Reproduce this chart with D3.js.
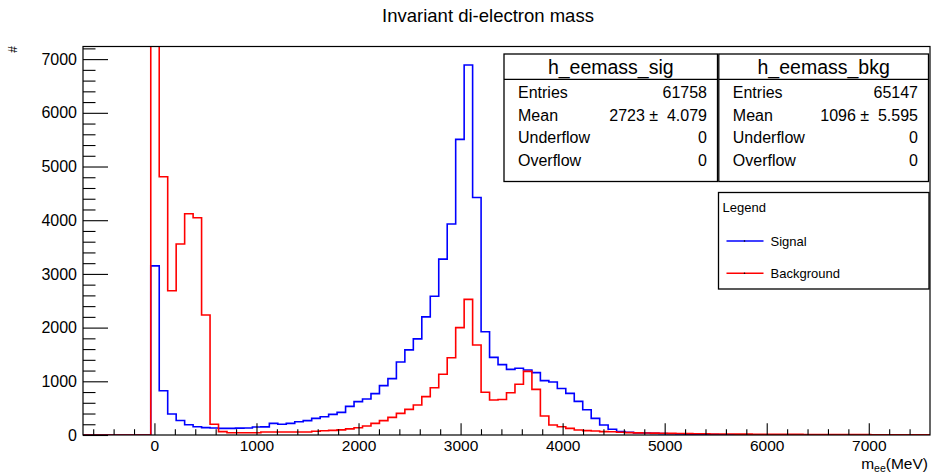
<!DOCTYPE html>
<html>
<head>
<meta charset="utf-8">
<script src="https://cdn.jsdelivr.net/npm/d3@7"></script>
<style>
  html, body { margin: 0; padding: 0; background: #fff; }
  svg { display: block; }
  text { font-family: "Liberation Sans", Arial, Helvetica, sans-serif; }
</style>
</head>
<body>
<div id="chart"></div>
<script>
// ---------------- data ----------------
const xRange = [-700, 7600];       // MeV, 100 bins of 83 MeV
const nBins = 100;
const signal = [
  0,0,0,0,0,0,0,0, 3150,825,
  390,270,190,155,137,130,124,124,128,130,
  149,152,217,199,217,248,267,310,341,385,
  422,534,621,670,770,919,1049,1360,1586,1791,
  2200,2585,3275,3929,5506,6890,4422,1924,1445,1310,
  1223,1242,1210,1162,1012,987,865,776,627,470,
  310,186,106,62,50,40,37,31,25,22,
  18,15,12,10,8,6,5,4,3,2,
  2,1,1,1,0,1,0,0,0,0,
  0,0,0,0,0,0,0,0,0,0
];
const background = [
  0,0,0,0,0,0,0,0, 21850,4810,
  2687,3557,4121,4047,2235,199,62,43,43,43,
  43,56,56,56,56,56,56,70,80,87,
  95,115,135,168,217,267,329,403,478,559,
  714,881,1130,1440,1999,2526,1676,797,652,660,
  788,945,1185,849,354,186,155,124,93,81,
  74,62,60,50,45,40,38,35,33,30,
  28,26,24,22,20,19,18,17,16,15,
  14,13,12,11,11,10,10,9,9,8,
  8,7,7,6,6,5,5,4,4,3
];
const xMajorTicks = [0, 1000, 2000, 3000, 4000, 5000, 6000, 7000];
const yMajorTicks = [0, 1000, 2000, 3000, 4000, 5000, 6000, 7000];
const yMax = 7235;

const statsSig = { name: "h_eemass_sig", entries: "61758", mean: "2723", meanErr: "4.079", under: "0", over: "0" };
const statsBkg = { name: "h_eemass_bkg", entries: "65147", mean: "1096", meanErr: "5.595", under: "0", over: "0" };

const seriesNames = ["Signal", "Background"];
const seriesColors = ["#0000ff", "#ff0000"];

// ---------------- layout ----------------
const W = 931, H = 473;
const frame = { left: 83, right: 930, top: 46.5, bottom: 435 };

const svg = d3.select("#chart").append("svg")
  .attr("width", W).attr("height", H);
svg.append("rect").attr("width", W).attr("height", H).attr("fill", "#fff");

const x = d3.scaleLinear().domain(xRange).range([frame.left, frame.right]);
const y = d3.scaleLinear().domain([0, yMax]).range([frame.bottom, frame.top]);

const binW = (xRange[1] - xRange[0]) / nBins;

svg.append("defs").append("clipPath").attr("id", "clip")
  .append("rect")
  .attr("x", frame.left).attr("y", frame.top)
  .attr("width", frame.right - frame.left).attr("height", frame.bottom - frame.top);

function histPoints(vals) {
  const pts = [[xRange[0], 0]];
  vals.forEach((v, i) => {
    const lo = xRange[0] + i * binW, hi = lo + binW;
    pts.push([lo, v]); pts.push([hi, v]);
  });
  pts.push([xRange[1], 0]);
  return pts;
}
const line = d3.line().x(d => x(d[0])).y(d => y(d[1]));

const g = svg.append("g").attr("clip-path", "url(#clip)");
[signal, background].forEach((vals, i) => {
  g.append("path")
    .attr("d", line(histPoints(vals)))
    .attr("fill", "none")
    .attr("stroke", seriesColors[i])
    .attr("stroke-width", 1.6)
    .attr("stroke-linejoin", "miter");
});

// ---------------- axes ----------------
const labelFont = 15.5;
const xMinor = d3.range(-600, 7600, 200).filter(v => v % 1000 !== 0);
const yMinor = d3.range(200, yMax, 200).filter(v => v % 1000 !== 0);

const xAxisG = svg.append("g").attr("transform", `translate(0,${frame.bottom})`);
xAxisG.call(d3.axisBottom(x).tickValues(xMajorTicks).tickSize(-11.7).tickPadding(5).tickFormat(d3.format("d")));
xAxisG.append("g").call(d3.axisBottom(x).tickValues(xMinor).tickSize(-5.8).tickFormat(""))
  .select(".domain").remove();
xAxisG.select(".domain").remove();
xAxisG.selectAll("text").attr("font-size", labelFont).attr("fill", "#000")
  .style("font-family", '"Liberation Sans", Arial, sans-serif');
xAxisG.selectAll("line").attr("stroke", "#000").attr("stroke-width", 1.1);

const yAxisG = svg.append("g").attr("transform", `translate(${frame.left},0)`);
yAxisG.call(d3.axisLeft(y).tickValues(yMajorTicks).tickSize(-25).tickPadding(6).tickFormat(d3.format("d")));
yAxisG.append("g").call(d3.axisLeft(y).tickValues(yMinor).tickSize(-12.5).tickFormat(""))
  .select(".domain").remove();
yAxisG.select(".domain").remove();
yAxisG.selectAll("text").attr("font-size", 16).attr("fill", "#000")
  .style("font-family", '"Liberation Sans", Arial, sans-serif');
yAxisG.selectAll("line").attr("stroke", "#000").attr("stroke-width", 1.1);

// frame
svg.append("rect")
  .attr("x", frame.left).attr("y", frame.top)
  .attr("width", frame.right - frame.left).attr("height", frame.bottom - frame.top)
  .attr("fill", "none").attr("stroke", "#000").attr("stroke-width", 1.2);

// axis titles
const xt = svg.append("text")
  .attr("x", 928).attr("y", 468.5)
  .attr("text-anchor", "end")
  .attr("font-size", 15.5).attr("fill", "#000");
xt.append("tspan").text("m");
xt.append("tspan").attr("font-size", 10.5).attr("dy", 3).text("ee");
xt.append("tspan").attr("dy", -3).text("(MeV)");

svg.append("text")
  .attr("transform", "translate(17,46) rotate(-90)")
  .attr("text-anchor", "end")
  .attr("font-size", 12).attr("fill", "#000")
  .text("#");

// title
svg.append("text")
  .attr("x", 488).attr("y", 21.5)
  .attr("text-anchor", "middle")
  .attr("font-size", 18.5).attr("fill", "#000")
  .text("Invariant di-electron mass");

// ---------------- stats boxes ----------------
function statsBox(s, x0, x1) {
  const top = 54, bottom = 181.5, titleSep = 79.3;
  const bg = svg.append("g");
  bg.append("rect").attr("x", x0).attr("y", top).attr("width", x1 - x0).attr("height", bottom - top)
    .attr("fill", "#fff").attr("stroke", "#000").attr("stroke-width", 1.3);
  bg.append("line").attr("x1", x0).attr("x2", x1).attr("y1", titleSep).attr("y2", titleSep)
    .attr("stroke", "#000").attr("stroke-width", 1.2);
  bg.append("text").attr("x", (x0 + x1) / 2).attr("y", 73.5)
    .attr("text-anchor", "middle").attr("font-size", 19.5).text(s.name);
  const rows = [
    ["Entries", s.entries],
    ["Mean", `${s.mean} \u00b1  ${s.meanErr}`],
    ["Underflow", s.under],
    ["Overflow", s.over]
  ];
  rows.forEach((r, i) => {
    const yy = 98.3 + i * 22.4;
    bg.append("text").attr("x", x0 + 14).attr("y", yy).attr("font-size", 16).text(r[0]);
    bg.append("text").attr("x", x1 - 10.5).attr("y", yy).attr("font-size", 16)
      .attr("text-anchor", "end").style("white-space", "pre").text(r[1]);
  });
}
statsBox(statsSig, 504, 717.5);
statsBox(statsBkg, 718.8, 928.5);

// ---------------- legend ----------------
const lg = svg.append("g");
lg.append("rect").attr("x", 718.5).attr("y", 192.5).attr("width", 210.5).attr("height", 96.5)
  .attr("fill", "#fff").attr("stroke", "#000").attr("stroke-width", 1.3);
lg.append("text").attr("x", 722.5).attr("y", 212).attr("font-size", 13).text("Legend");
seriesNames.forEach((nm, i) => {
  const yy = 241 + i * 32.3;
  lg.append("line").attr("x1", 726.5).attr("x2", 763.5).attr("y1", yy).attr("y2", yy)
    .attr("stroke", seriesColors[i]).attr("stroke-width", 1.5);
  lg.append("circle").attr("cx", 744.5).attr("cy", yy).attr("r", 0.8).attr("fill", "#000");
  lg.append("text").attr("x", 770.5).attr("y", yy + 4.6).attr("font-size", 13).text(nm);
});
</script>
</body>
</html>
